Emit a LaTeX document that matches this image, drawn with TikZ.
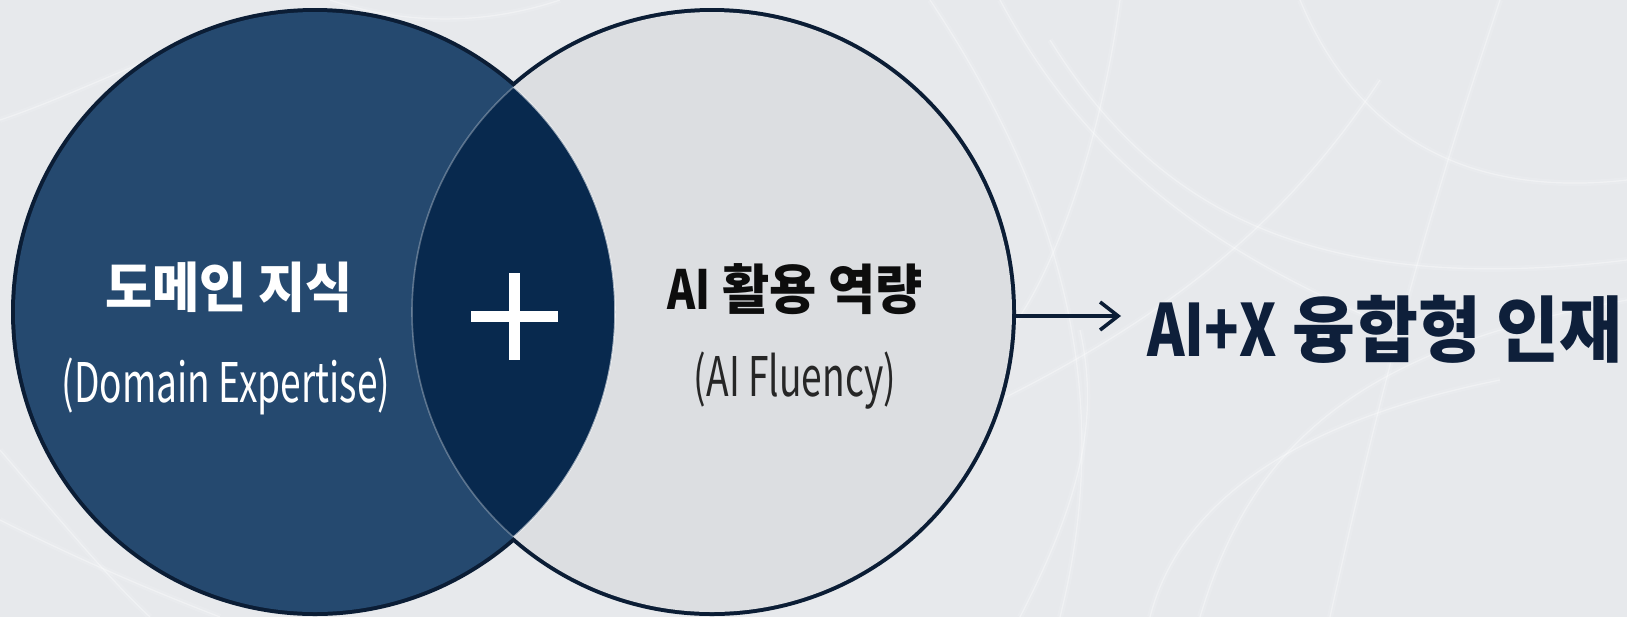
\documentclass[tikz,border=0pt]{standalone}
\usepackage{fontspec}
\newfontfamily\kr[FakeStretch=0.95]{Noto Sans CJK KR}
\newfontfamily\lat[FakeStretch=0.68]{Noto Sans CJK KR}
\newfontfamily\latb[FakeStretch=0.79]{Noto Sans CJK KR}
\usetikzlibrary{arrows.meta}
\definecolor{bgc}{HTML}{E7E9EC}
\definecolor{leftc}{HTML}{25496F}
\definecolor{lensc}{HTML}{08294E}
\definecolor{rightc}{HTML}{DCDEE1}
\definecolor{edgec}{HTML}{0B1D35}
\definecolor{navytext}{HTML}{0E1F3A}
\begin{document}
\begin{tikzpicture}[x=0.5pt,y=-0.5pt,
  streak/.style={white, opacity=0.35, line width=0.6pt, preaction={draw, white, opacity=0.12, line width=3pt}},
  outline/.style={edgec, line width=4pt},
  arrowline/.style={edgec, line width=1.8pt, -{Straight Barb[length=9pt,width=14pt,line width=1.8pt]}},
  krbold/.style={font=\kr\bfseries\fontsize{27}{30}\selectfont, inner sep=0pt},
  krsub/.style={font=\lat\fontsize{27.3}{30}\selectfont, inner sep=0pt}
]
\useasboundingbox (0,0) rectangle (1627,617);
\fill[bgc] (0,0) rectangle (1627,617);
% background light streaks
\begin{scope}
\clip (0,0) rectangle (1627,617);
\draw[streak] (930,0) .. controls (1050,180) and (1120,380) .. (1060,617);
\draw[streak] (1000,0) .. controls (1080,150) and (1200,250) .. (1400,330);
\draw[streak] (1050,40) .. controls (1150,200) and (1300,300) .. (1627,260);
\draw[streak] (1120,0) .. controls (1100,150) and (1050,280) .. (1010,330);
\draw[streak] (1200,617) .. controls (1250,450) and (1350,350) .. (1627,300);
\draw[streak] (1150,617) .. controls (1180,500) and (1300,420) .. (1500,380);
\draw[streak] (1300,0) .. controls (1350,120) and (1450,200) .. (1627,180);
\draw[streak] (1500,0) .. controls (1450,150) and (1400,300) .. (1330,617);
\draw[streak] (1020,617) .. controls (1080,500) and (1100,420) .. (1080,330);
\draw[streak] (1380,80) .. controls (1300,200) and (1200,300) .. (1000,400);
\draw[streak] (0,520) .. controls (80,560) and (150,590) .. (220,617);
\draw[streak] (0,450) .. controls (60,520) and (110,580) .. (150,617);
\draw[streak] (0,120) .. controls (60,100) and (120,70) .. (200,40);
\draw[streak] (560,0) .. controls (500,20) and (420,30) .. (330,0);
\end{scope}
% centres
\coordinate (LC) at (315,312);
\coordinate (RC) at (712,312);
% outlines (outer halves remain visible)
\draw[outline] (RC) circle (300);
\draw[outline] (LC) circle (300);
\fill[rightc] (RC) circle (300);
\fill[leftc] (LC) circle (300);
\begin{scope}
\clip (LC) circle (300);
\fill[lensc] (RC) circle (300);
\draw[white, opacity=0.3, line width=0.8pt] (RC) circle (300);
\end{scope}
\begin{scope}
\clip (RC) circle (300);
\draw[white, opacity=0.6, line width=0.8pt] (LC) circle (300);
\end{scope}
% plus sign
\fill[white] (509,273) rectangle (520,360);
\fill[white] (471,311) rectangle (558,322);
% labels
\node[krbold, text=white] (dk) at (229,287) {도메인 지식};
\node[krsub, text=white] (de) at (226,386) {(Domain Expertise)};
\node[krbold, text=black!95] (ak) at (795,289) {{\latb AI} 활용 역량};
\node[krsub, text=black!85] (af) at (795,381) {(AI Fluency)};
\node[anchor=west, inner sep=0pt, font=\kr\bfseries\fontsize{36}{40}\selectfont, text=navytext] (res) at (1147,329) {{\latb AI+X} 융합형 인재};
\coordinate (Re) at (1012,316);
\draw[arrowline, shorten >=13pt] (Re) -- (Re -| res.west);
\end{tikzpicture}
\end{document}
